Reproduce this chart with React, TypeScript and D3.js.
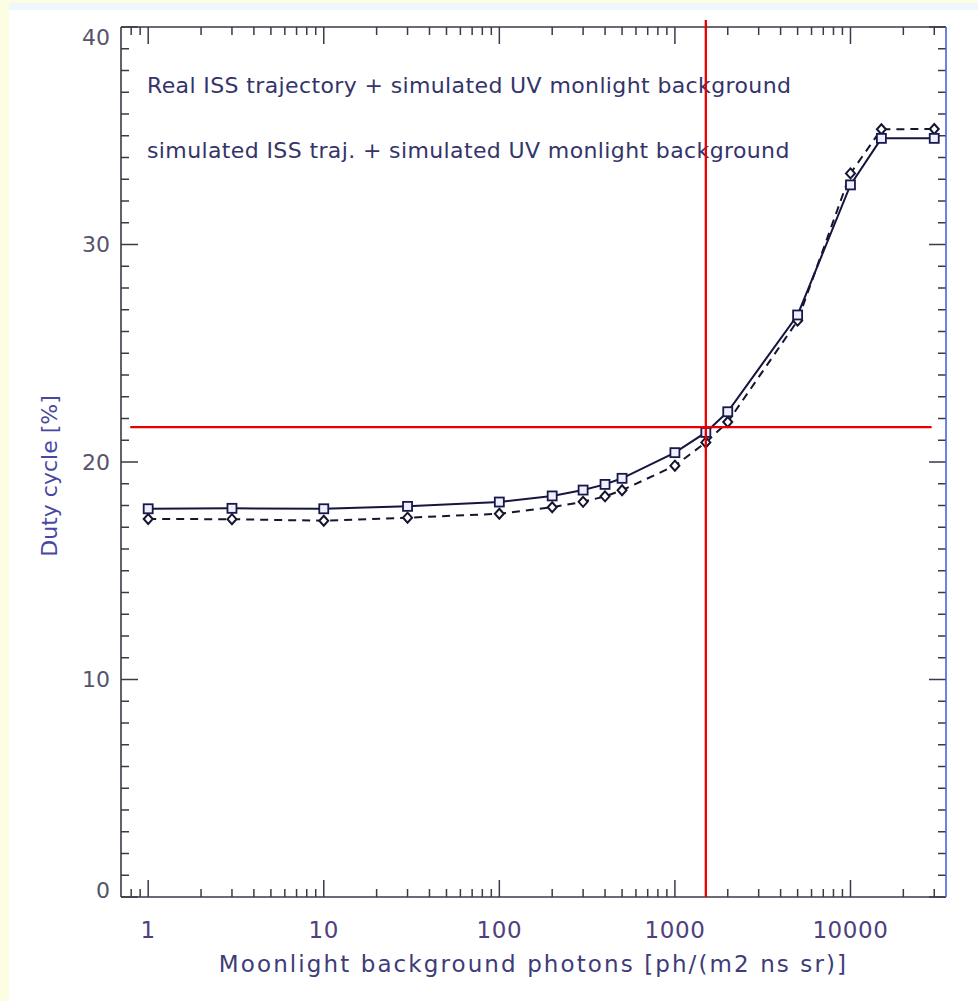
import React from "react";
import * as d3 from "d3";

// photon background values (x) and duty cycle (%) for both simulations
const photons = [1, 3, 10, 30, 100, 200, 300, 400, 500, 1000, 1500, 2000, 5000, 10000, 15000, 30000];
const dutyRealISS = [17.85, 17.87, 17.85, 17.96, 18.16, 18.44, 18.71, 18.97, 19.25, 20.43, 21.36, 22.31, 26.76, 32.74, 34.88, 34.88];
const dutySimISS = [17.38, 17.37, 17.3, 17.44, 17.62, 17.92, 18.17, 18.42, 18.7, 19.83, 20.9, 21.84, 26.5, 33.27, 35.3, 35.31];

const legendLabels = [
  "Real ISS trajectory + simulated UV monlight background",
  "simulated ISS traj. + simulated UV monlight background",
];
const xTickLabels = [1, 10, 100, 1000, 10000];
const yTickLabels = [0, 10, 20, 30, 40];

// red reference cross
const crossPhotons = 1500;
const crossDuty = 21.6;
const crossHRange = [0.79, 29000];
const crossVRange = [0, 40.32];

const W = 978;
const H = 1001;
const margin = { top: 27, right: 32, bottom: 104, left: 121 };
const FONT = "DejaVu Sans, sans-serif";

const App = () => {
  const x = d3
    .scaleLog()
    .domain([0.7, 35000])
    .range([margin.left, W - margin.right]);
  const y = d3
    .scaleLinear()
    .domain([0, 40])
    .range([H - margin.bottom, margin.top]);

  const [x0, x1] = x.range();
  const [yb, yt] = y.range();

  // log ticks: decades are major, the rest minor
  const xTicks = x.ticks().filter((t) => t > 0.7 && t <= 35000);
  const isDecade = (t: number) => Math.abs(Math.log10(t) - Math.round(Math.log10(t))) < 1e-9;
  const yTicks = d3.range(0, 41);

  const line = d3
    .line<number>()
    .x((_, i) => x(photons[i]))
    .y((d) => y(d));

  const axisColor = "#3a3a48";
  const major = 17;
  const minor = 8;

  const square = (px: number, py: number, key: string) => (
    <rect key={key} x={px - 4.5} y={py - 4.5} width={9} height={9} fill="#eef0ff" stroke="#18184a" strokeWidth={1.8} />
  );
  const diamond = (px: number, py: number, key: string) => (
    <path
      key={key}
      d={`M${px},${py - 5}L${px + 4.5},${py}L${px},${py + 5}L${px - 4.5},${py}Z`}
      fill="#ffffff"
      stroke="#151530"
      strokeWidth={2}
    />
  );

  return (
    <>
      <style>{"body{margin:0}"}</style>
      <svg width={W} height={H} style={{ display: "block" }} fontFamily={FONT}>
        {/* page frame */}
        <rect x={0} y={0} width={W} height={H} fill="#ffffff" />
        <rect x={0} y={0} width={W} height={10} fill="#eef7fb" />
        <rect x={0} y={0} width={W} height={3} fill="#fdfde2" />
        <rect x={0} y={0} width={9} height={H} fill="#fdfde2" />

        {/* x ticks bottom and top */}
        {xTicks.map((t) => {
          const len = isDecade(t) ? major : minor;
          return (
            <g key={"xt" + t} stroke={axisColor} strokeWidth={1.5}>
              <line x1={x(t)} x2={x(t)} y1={yb} y2={yb - len} />
              <line x1={x(t)} x2={x(t)} y1={yt} y2={yt + len} />
            </g>
          );
        })}

        {/* y ticks left and right */}
        {yTicks.map((t) => {
          const len = t % 10 === 0 ? major : minor;
          return (
            <g key={"yt" + t} stroke={axisColor} strokeWidth={1.5}>
              <line x1={x0} x2={x0 + len} y1={y(t)} y2={y(t)} />
              <line x1={x1} x2={x1 - len} y1={y(t)} y2={y(t)} />
            </g>
          );
        })}

        {/* axes frame */}
        <line x1={x0} x2={x1} y1={yb} y2={yb} stroke={axisColor} strokeWidth={1.6} />
        <line x1={x0} x2={x1} y1={yt} y2={yt} stroke={axisColor} strokeWidth={1.6} />
        <line x1={x0} x2={x0} y1={yt} y2={yb} stroke={axisColor} strokeWidth={1.6} />
        <line x1={x1} x2={x1} y1={yt} y2={yb} stroke="#4a63e0" strokeWidth={1.6} />

        {/* tick labels */}
        {xTickLabels.map((t) => (
          <text key={"xl" + t} x={x(t)} y={yb + 41} textAnchor="middle" fontSize={23} letterSpacing={0.6} fill="#4e3f7e">
            {t}
          </text>
        ))}
        {yTickLabels.map((t) => (
          <text
            key={"yl" + t}
            x={x0 - 11}
            y={Math.min(Math.max(y(t), yt + 10), yb - 7)}
            dy="0.36em"
            textAnchor="end"
            fontSize={22}
            fill="#55556a"
          >
            {t}
          </text>
        ))}

        {/* axis titles */}
        <text x={(x0 + x1) / 2} y={yb + 75} textAnchor="middle" fontSize={23} letterSpacing={2.1} fill="#3e3c78">
          Moonlight background photons [ph/(m2 ns sr)]
        </text>
        <text transform={`translate(57,${(yt + yb) / 2 + 14}) rotate(-90)`} textAnchor="middle" fontSize={22} fill="#4848a0">
          Duty cycle [%]
        </text>

        {/* legend text */}
        {legendLabels.map((s, i) => (
          <text key={s} x={147} y={93 + i * 65} fontSize={22} letterSpacing={0.38} fill="#34346a">
            {s}
          </text>
        ))}

        {/* data lines */}
        <path d={line(dutySimISS) ?? ""} fill="none" stroke="#151530" strokeWidth={2} strokeDasharray="8 6" />
        <path d={line(dutyRealISS) ?? ""} fill="none" stroke="#151540" strokeWidth={2} />

        {/* markers */}
        {dutySimISS.map((d, i) => diamond(x(photons[i]), y(d), "d" + i))}
        {dutyRealISS.map((d, i) => square(x(photons[i]), y(d), "s" + i))}

        {/* red reference cross */}
        <line x1={x(crossHRange[0])} x2={x(crossHRange[1])} y1={y(crossDuty)} y2={y(crossDuty)} stroke="#e80000" strokeWidth={2.3} />
        <line x1={x(crossPhotons)} x2={x(crossPhotons)} y1={y(crossVRange[0])} y2={y(crossVRange[1])} stroke="#e80000" strokeWidth={2.3} />
      </svg>
    </>
  );
};

export default App;
